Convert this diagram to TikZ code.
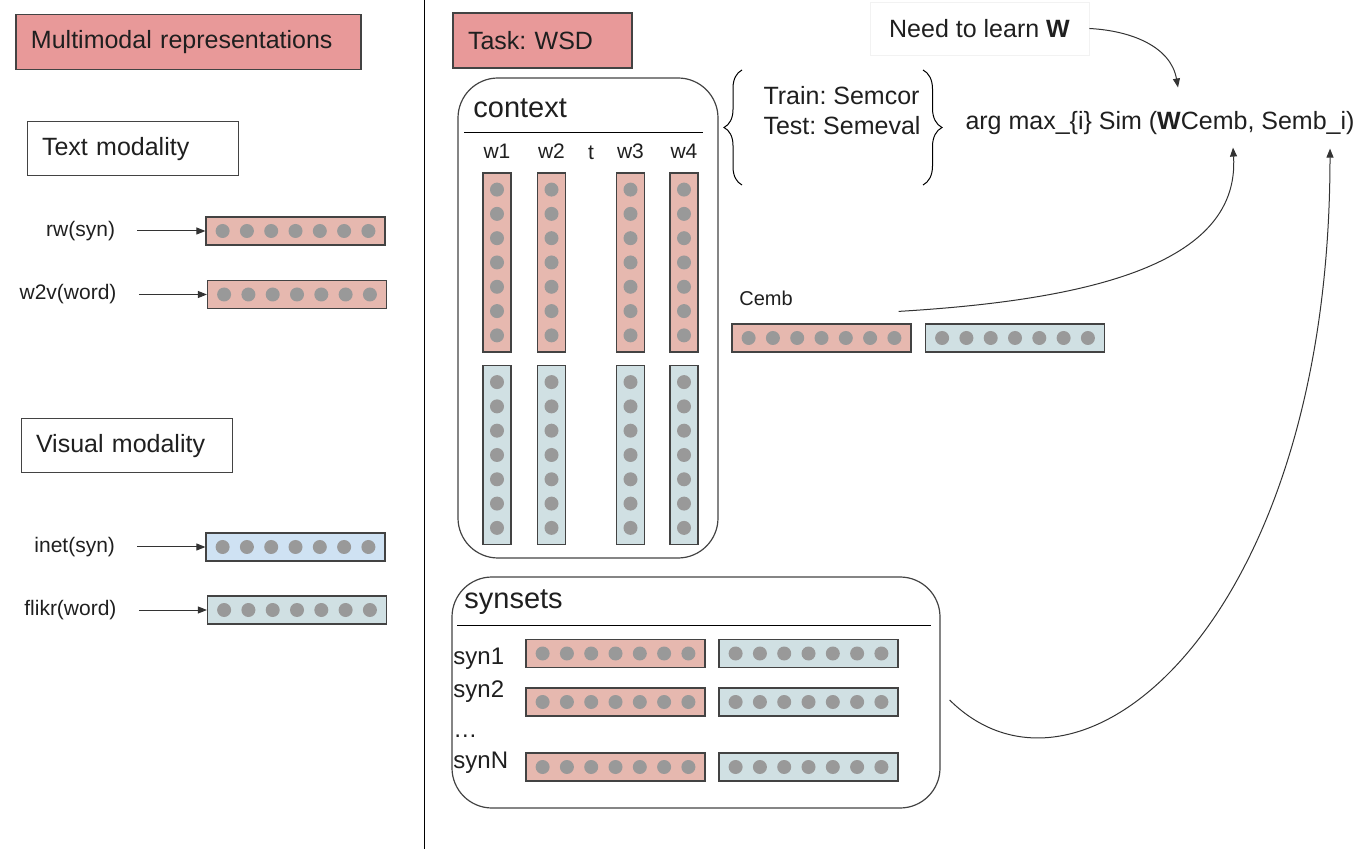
\documentclass[tikz,border=0pt]{standalone}
\usepackage{fontspec}
\setmainfont{Liberation Sans}
\usepackage{tikz}
\usetikzlibrary{positioning, arrows.meta, calc, decorations.pathreplacing}
\usepackage{xcolor}
\definecolor{head-red}{RGB}{232,153,153}
\definecolor{txt-red}{RGB}{230,184,175}
\definecolor{img-blue}{RGB}{207,226,243}
\definecolor{img-teal}{RGB}{208,224,227}
\definecolor{dot-gray}{RGB}{153,153,153}
\definecolor{line-gray}{RGB}{67,67,67}
\frenchspacing
\tikzset{
	pics/hvec/.style={code={
		\node[vec, minimum width=89.5pt, minimum height=14pt, fill=#1] (-b) {};
		\foreach \k in {-3,...,3} \fill[dot-gray] (\k*24.3,0) circle[radius=3.5pt];
	}},
	pics/vvec/.style={code={
		\node[vec, minimum width=14pt, minimum height=89.5pt, fill=#1] (-b) {};
		\foreach \k in {-3,...,3} \fill[dot-gray] (0,\k*24.3) circle[radius=3.5pt];
	}}
}
\begin{document}
\begin{tikzpicture}[x=0.5pt, y=-0.5pt, font=\fontsize{12.5}{15}\selectfont, text=black!88,
	head/.style={draw=line-gray, line width=0.7pt, fill=head-red, inner xsep=7.5pt, align=left, minimum height=27.5pt},
	mod/.style={draw=line-gray, line width=0.5pt, inner xsep=7.5pt, align=left, minimum height=27pt},
	vec/.style={draw=line-gray, line width=0.6pt},
	grp/.style={draw=line-gray, line width=0.6pt, rounded corners=20pt},
	lbl/.style={font=\fontsize{10.5}{12}\selectfont, inner sep=1pt},
	big/.style={font=\fontsize{14.5}{17}\selectfont, inner sep=0pt},
	arr/.style={-{Triangle[length=4.5pt, width=3.5pt]}, line width=0.5pt, black!80}]
	\useasboundingbox (0,0) rectangle (1370,849);
	\node[head, text width=157.5pt] (mm) at (188.5,42) {Multimodal representations};
	\node[mod, text width=90.5pt] (tmod) at (132.5,149) {Text modality};
	\node[mod, text width=90.5pt] (vmod) at (126.5,446) {Visual modality};
	\pic (rw) at (295.5,231) {hvec=txt-red};
	\pic (w2v) at (297,294.5) {hvec=txt-red};
	\pic (inet) at (295.5,547) {hvec=img-blue};
	\pic (flikr) at (297,610) {hvec=img-teal};
	\node[lbl, left=44pt of rw-b] (rwl) {rw(syn)};
	\node[lbl, left=44pt of w2v-b] (w2vl) {w2v(word)};
	\node[lbl, left=44pt of inet-b] (inetl) {inet(syn)};
	\node[lbl, left=44pt of flikr-b] (flikrl) {flikr(word)};
	\draw[arr, shorten <=10pt] (rwl) -- (rw-b);
	\draw[arr, shorten <=10pt] (w2vl) -- (w2v-b);
	\draw[arr, shorten <=10pt] (inetl) -- (inet-b);
	\draw[arr, shorten <=10pt] (flikrl) -- (flikr-b);
	\draw[line width=0.45pt] (424,0) -- (424,849);
	\node[head, text width=74.5pt] (task) at (542.5,40.5) {Task: WSD};
	\node[grp, minimum width=130pt, minimum height=240pt] (ctx) at (588,318) {};
	\node[big, anchor=base west] (ctxl) at (473,118) {context};
	\draw[line width=0.5pt] ([xshift=3.5pt, yshift=-27.5pt]ctx.north west) -- ([xshift=-8pt, yshift=-27.5pt]ctx.north east);
	\pic (c1) at (497,262.5) {vvec=txt-red};
	\pic (c2) at (551.5,262.5) {vvec=txt-red};
	\pic (c3) at (630.5,262.5) {vvec=txt-red};
	\pic (c4) at (684,262.5) {vvec=txt-red};
	\pic (v1) at (497,455) {vvec=img-teal};
	\pic (v2) at (551.5,455) {vvec=img-teal};
	\pic (v3) at (630.5,455) {vvec=img-teal};
	\pic (v4) at (684,455) {vvec=img-teal};
	\node[lbl, above=5.5pt of c1-b] (w1) {w1};
	\node[lbl, above=5.5pt of c2-b] (w2) {w2};
	\node[lbl, anchor=base] (tw) at (591,160) {t};
	\node[lbl, above=5.5pt of c3-b] (w3) {w3};
	\node[lbl, above=5.5pt of c4-b] (w4) {w4};
	\node[align=left] (data) at (842,111) {Train: Semcor\\Test: Semeval};
	\draw[line width=0.5pt, decorate, decoration={brace, amplitude=9pt}] (742,185) -- (742,70);
	\draw[line width=0.5pt, decorate, decoration={brace, amplitude=9.5pt}] (923,70) -- (923,185);
	\node[draw=black!5, minimum width=109.5pt, minimum height=26.5pt] (need) at (979.5,28.5) {Need to learn \textbf{W}};
	\node[inner sep=0pt, anchor=base] (sim) at (1160,130) {arg max\_\{i\} Sim (\textbf{W}Cemb, Semb\_i)};
	\node[lbl, font=\fontsize{10}{12}\selectfont, anchor=base west] (cembl) at (737,306) {Cemb};
	\pic (cemb) at (821.5,338) {hvec=txt-red};
	\pic (cembv) at (1015,338) {hvec=img-teal};
	\node[grp, minimum width=244pt, minimum height=115.5pt] (syn) at (696,692.5) {};
	\node[big, anchor=base west] (synl) at (464,609) {synsets};
	\draw[line width=0.5pt] ([xshift=3pt, yshift=-24.5pt]syn.north west) -- ([xshift=-5pt, yshift=-24.5pt]syn.north east);
	\node[inner sep=0pt, anchor=base west, font=\fontsize{12}{14}\selectfont] (s1) at (453,664) {syn1};
	\node[inner sep=0pt, anchor=base west, font=\fontsize{12}{14}\selectfont] (s2) at (453,697) {syn2};
	\node[inner sep=0pt, anchor=base west, font=\fontsize{12}{14}\selectfont] (sdots) at (453,737) {…};
	\node[inner sep=0pt, anchor=base west, font=\fontsize{12}{14}\selectfont] (sN) at (453,768) {synN};
	\pic (s1p) at (615.5,653.5) {hvec=txt-red};
	\pic (s1v) at (808.5,653.5) {hvec=img-teal};
	\pic (s2p) at (615.5,702) {hvec=txt-red};
	\pic (s2v) at (808.5,702) {hvec=img-teal};
	\pic (sNp) at (615.5,767) {hvec=txt-red};
	\pic (sNv) at (808.5,767) {hvec=img-teal};
	\draw[arr] (need.east) to[out=-3, in=100] ([xshift=9pt, yshift=12pt]sim.north);
	\draw[arr] ([xshift=-6.5pt, yshift=6pt]cemb-b.north east) .. controls +(202,-12) and +(7,113) .. ([xshift=36.5pt, yshift=-6pt]sim.south);
	\draw[arr] ([xshift=4.5pt, yshift=-3.75pt]syn.east) .. controls +(131,130) and +(0,472) .. ([xshift=85pt, yshift=-6.5pt]sim.south);
\end{tikzpicture}
\end{document}
